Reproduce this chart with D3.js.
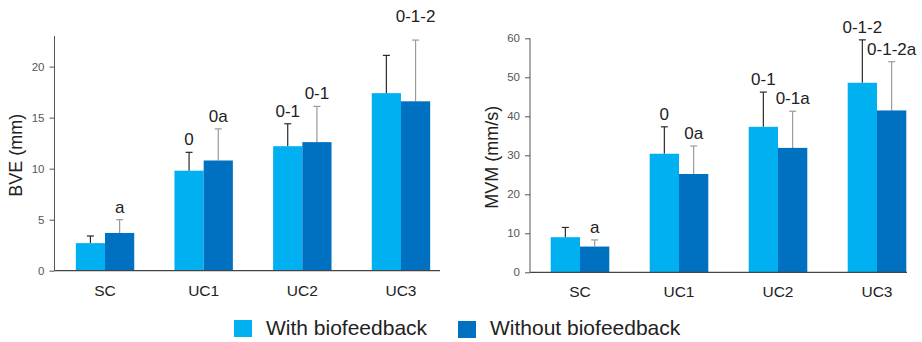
<!DOCTYPE html>
<html>
<head>
<meta charset="utf-8">
<script src="https://cdn.jsdelivr.net/npm/d3@7/dist/d3.min.js"></script>
<style>
  html, body { margin: 0; padding: 0; background: #fff; }
  svg { display: block; font-family: Arial, "Liberation Sans", sans-serif; }
</style>
</head>
<body>
<svg id="chart" width="922" height="342"></svg>
<script>
// Conditions
const categories = ["SC", "UC1", "UC2", "UC3"];

// BVE (mm): means and standard deviations
const bveWith = [2.7, 9.8, 12.2, 17.4];
const bveWithSd = [0.7, 1.8, 2.2, 3.7];
const bveWithout = [3.7, 10.8, 12.6, 16.6];
const bveWithoutSd = [1.3, 3.1, 3.5, 6.0];
const bveWithLabels = ["", "0", "0-1", ""];
const bveWithoutLabels = ["a", "0a", "0-1", "0-1-2"];
const bveTicks = [0, 5, 10, 15, 20];

// MVM (mm/s): means and standard deviations
const mvmWith = [9.0, 30.4, 37.3, 48.6];
const mvmWithSd = [2.5, 6.9, 8.9, 11.0];
const mvmWithout = [6.6, 25.2, 31.9, 41.5];
const mvmWithoutSd = [1.7, 7.2, 9.4, 12.5];
const mvmWithLabels = ["", "0", "0-1", "0-1-2"];
const mvmWithoutLabels = ["a", "0a", "0-1a", "0-1-2a"];
const mvmTicks = [0, 10, 20, 30, 40, 50, 60];

const seriesNames = ["With biofeedback", "Without biofeedback"];
const colors = ["#00b0f0", "#0070c0"];
const errColors = ["#2a2a2a", "#9a9a9a"];

const svg = d3.select("#chart");

function panel(opts) {
  const g = svg.append("g");
  const y = d3.scaleLinear().domain(opts.domain).range([opts.bottom, opts.top]);
  const x = d3.scalePoint().domain(categories).range(opts.xRange).padding(0.5);
  const step = x.step();
  const barW = step * 0.296;

  // y axis
  const yAxis = d3.axisLeft(y).tickValues(opts.ticks).tickSize(5).tickPadding(5);
  const ya = g.append("g").attr("transform", `translate(${opts.axisX},0)`).call(yAxis);
  ya.select(".domain").attr("stroke", "#555").attr("stroke-width", 1)
    .attr("d", `M0,${opts.bottom}V${opts.top}`);
  ya.selectAll(".tick line").attr("stroke", "#555");
  ya.selectAll(".tick text").attr("fill", "#555").style("font-size", "11.5px")
    .style("font-family", "Arial, 'Liberation Sans', sans-serif");

  // y axis title
  g.append("text")
    .attr("transform", `translate(${opts.titleX},${(opts.top + opts.bottom) / 2 + 2}) rotate(-90)`)
    .attr("text-anchor", "middle")
    .attr("dominant-baseline", "middle")
    .style("font-size", "18px")
    .attr("fill", "#222")
    .text(opts.title);

  const series = [
    { vals: opts.withVals, sd: opts.withSd, labels: opts.withLabels, off: -1 },
    { vals: opts.withoutVals, sd: opts.withoutSd, labels: opts.withoutLabels, off: 0 }
  ];

  series.forEach((s, si) => {
    const sg = g.append("g");
    const data = categories.map((c, i) => ({ c, i, v: s.vals[i], sd: s.sd[i], lab: s.labels[i] }));
    const bx = d => x(d.c) + s.off * barW;
    const cx = d => bx(d) + barW / 2;

    // error bars (upper only)
    sg.selectAll("line.err").data(data).join("line")
      .attr("x1", cx).attr("x2", cx)
      .attr("y1", d => y(d.v)).attr("y2", d => y(d.v + d.sd))
      .attr("stroke", errColors[si]).attr("stroke-width", 1.2);
    sg.selectAll("line.cap").data(data).join("line")
      .attr("x1", d => cx(d) - 3.5).attr("x2", d => cx(d) + 3.5)
      .attr("y1", d => y(d.v + d.sd)).attr("y2", d => y(d.v + d.sd))
      .attr("stroke", errColors[si]).attr("stroke-width", 1.2);

    // bars
    sg.selectAll("rect").data(data).join("rect")
      .attr("x", bx).attr("width", barW)
      .attr("y", d => y(d.v)).attr("height", d => y(0) - y(d.v))
      .attr("fill", colors[si]);

    // significance labels
    sg.selectAll("text").data(data.filter(d => d.lab)).join("text")
      .attr("x", cx)
      .attr("y", d => y(d.v + d.sd) - 7 - ((opts.lift[si] || {})[d.c] || 0))
      .attr("text-anchor", "middle")
      .style("font-size", "17px")
      .attr("fill", "#222")
      .text(d => d.lab);
  });

  // x axis baseline
  g.append("line")
    .attr("x1", opts.axisX).attr("x2", opts.xEnd)
    .attr("y1", y(0)).attr("y2", y(0))
    .attr("stroke", "#444").attr("stroke-width", 1.3);

  // category labels
  g.selectAll("text.cat").data(categories).join("text")
    .attr("class", "cat")
    .attr("x", d => x(d))
    .attr("y", opts.bottom + 25)
    .attr("text-anchor", "middle")
    .style("font-size", "15.5px")
    .attr("fill", "#222")
    .text(d => d);
}

panel({
  domain: [0, 23], top: 36, bottom: 270.7, axisX: 54.5, xEnd: 440,
  xRange: [55.7, 450.3], ticks: bveTicks, title: "BVE (mm)", titleX: 17,
  withVals: bveWith, withSd: bveWithSd, withLabels: bveWithLabels,
  withoutVals: bveWithout, withoutSd: bveWithoutSd, withoutLabels: bveWithoutLabels,
  lift: [{}, { UC3: 11 }]
});

panel({
  domain: [0, 60], top: 38.3, bottom: 272.3, axisX: 530, xEnd: 907,
  xRange: [530.5, 926.5], ticks: mvmTicks, title: "MVM (mm/s)", titleX: 493,
  withVals: mvmWith, withSd: mvmWithSd, withLabels: mvmWithLabels,
  withoutVals: mvmWithout, withoutSd: mvmWithoutSd, withoutLabels: mvmWithoutLabels,
  lift: [{}, {}]
});

// legend
const legend = svg.append("g");
const legendX = [234, 458];
seriesNames.forEach((name, i) => {
  legend.append("rect")
    .attr("x", legendX[i]).attr("y", 320 + i)
    .attr("width", 18).attr("height", 17)
    .attr("fill", colors[i]);
  legend.append("text")
    .attr("x", legendX[i] + 32).attr("y", 335)
    .style("font-size", "21px")
    .attr("fill", "#222")
    .text(name);
});
</script>
</body>
</html>
